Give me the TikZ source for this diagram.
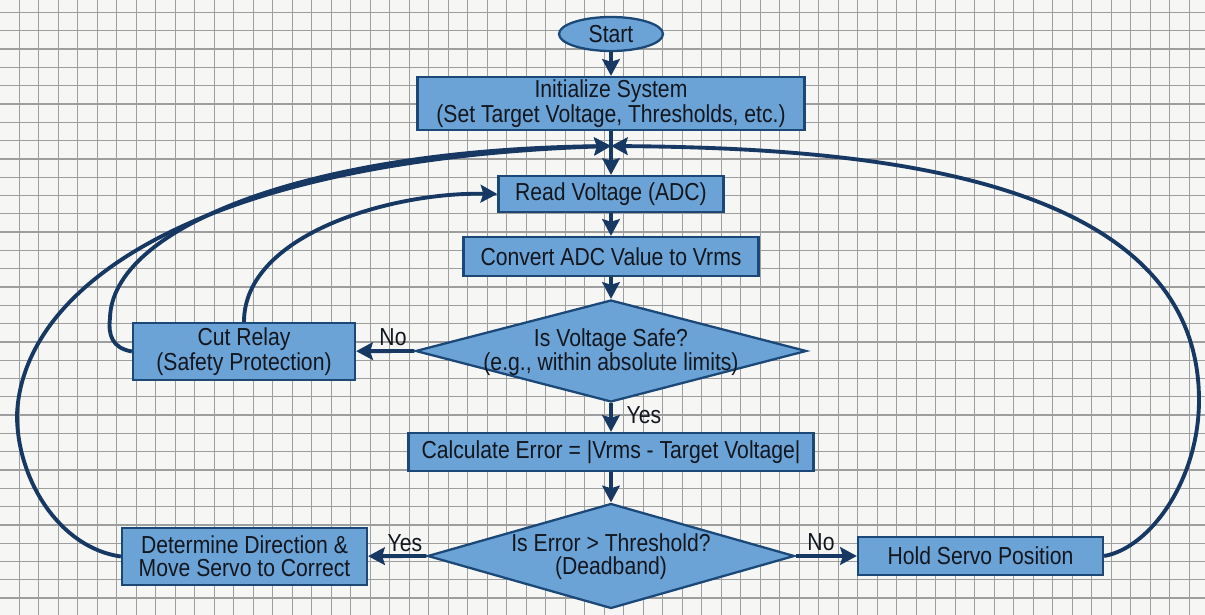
\documentclass[tikz,border=0pt]{standalone}
\usepackage{fontspec}
\setmainfont{Liberation Sans}[FakeStretch=0.86]
\usetikzlibrary{shapes.geometric,arrows.meta}
\definecolor{bgc}{RGB}{246,246,245}
\definecolor{gridc}{RGB}{158,158,158}
\definecolor{boxfill}{RGB}{108,163,214}
\definecolor{boxdraw}{RGB}{28,72,120}
\definecolor{arrc}{RGB}{22,56,98}
\definecolor{txtc}{RGB}{18,22,30}
\begin{document}
\begin{tikzpicture}[x=0.02cm,y=-0.02cm,
  every node/.style={font=\fontsize{14}{13}\selectfont, text=txtc},
  gridline/.style={draw=gridc, line width=0.75pt},
  procbox/.style={draw=boxdraw, fill=boxfill, line width=1.3pt, inner sep=0pt, align=center},
  startbox/.style={ellipse, draw=boxdraw, fill=boxfill, line width=1.3pt, inner sep=0pt, minimum width=2.08cm, minimum height=0.68cm},
  decision/.style={diamond, draw=boxdraw, fill=boxfill, line width=1.3pt, inner sep=0pt},
  plain/.style={align=center, inner sep=0pt},
  arr/.style={draw=arrc, line width=2.2pt, -{Stealth[length=9.5pt,width=10pt,inset=1.5pt]}},
  lbl/.style={inner sep=0pt}
]
% background and grid
\fill[bgc] (0,0) rectangle (1205,615);
\useasboundingbox (0,0) rectangle (1205,615);
\foreach \i in {-1,...,60} \draw[gridline] ({19.3+19.5*\i},0) -- ({19.3+19.5*\i},615);
\foreach \j in {0,...,33} \draw[gridline] (0,{12.5+18.3*\j}) -- (1205,{12.5+18.3*\j});

% nodes
\node[startbox] (start) at (611,34) {Start};
\node[procbox, minimum width=7.74cm, minimum height=1.06cm] (init) at (611,103.5) {Initialize System\\(Set Target Voltage, Thresholds, etc.)};
\coordinate (merge) at (611,146);
\node[procbox, minimum width=4.5cm, minimum height=0.72cm] (read) at (611,194) {Read Voltage (ADC)};
\node[procbox, minimum width=5.9cm, minimum height=0.78cm] (conv) at (611,256.5) {Convert ADC Value to Vrms};
\node[decision, minimum width=7.82cm, minimum height=2.04cm] (d1) at (611,351) {};
\node[plain] (d1t) at (611,352) {Is Voltage Safe?\\(e.g., within absolute limits)};
\node[procbox, minimum width=4.44cm, minimum height=1.14cm] (cut) at (244,351.5) {Cut Relay\\(Safety Protection)};
\node[procbox, minimum width=8.1cm, minimum height=0.76cm] (calc) at (611,452) {Calculate Error = |Vrms - Target Voltage|};
\node[decision, minimum width=7.34cm, minimum height=2.1cm] (d2) at (611,556) {};
\node[plain] (d2t) at (611,557) {Is Error > Threshold?\\(Deadband)};
\node[procbox, minimum width=4.9cm, minimum height=1.14cm] (det) at (244.5,556.5) {Determine Direction \&\\Move Servo to Correct};
\node[procbox, minimum width=4.9cm, minimum height=0.76cm] (hold) at (980.5,556) {Hold Servo Position};

% labels
\node[lbl] (lno1) at (393,337) {No};
\node[lbl] (lyes1) at (644,415) {Yes};
\node[lbl] (lyes2) at (405,543) {Yes};
\node[lbl] (lno2) at (821,542) {No};

% main flow
\draw[arr] (start) -- (init);
\draw[arr] (init) -- (read);
\draw[arr] (read) -- (conv);
\draw[arr] (conv) -- (d1);
\draw[arr] (d1.south) -- (calc);
\draw[arr] (d1.west) -- (cut);
\draw[arr] (calc) -- (d2);
\draw[arr] (d2.west) -- (det);
\draw[arr] (d2.east) -- (hold);

% loops
\coordinate (p1) at (110,318);
\coordinate (p2) at (17,415);
\coordinate (p3) at (1199,400);
\draw[arr] (cut.north) .. controls (244,235) and (390,192) .. (read.west);
\draw[arr] (cut.west) .. controls (112,348) and (108,335) .. (p1) .. controls (112,230) and (300,150) .. (merge);
\draw[arr] (det.west) .. controls (60,548) and (17,480) .. (p2) .. controls (22,285) and (200,160) .. (merge);
\draw[arr] (hold.east) .. controls (1150,548) and (1199,480) .. (p3) .. controls (1199,170) and (850,148) .. (merge);
\end{tikzpicture}
\end{document}
